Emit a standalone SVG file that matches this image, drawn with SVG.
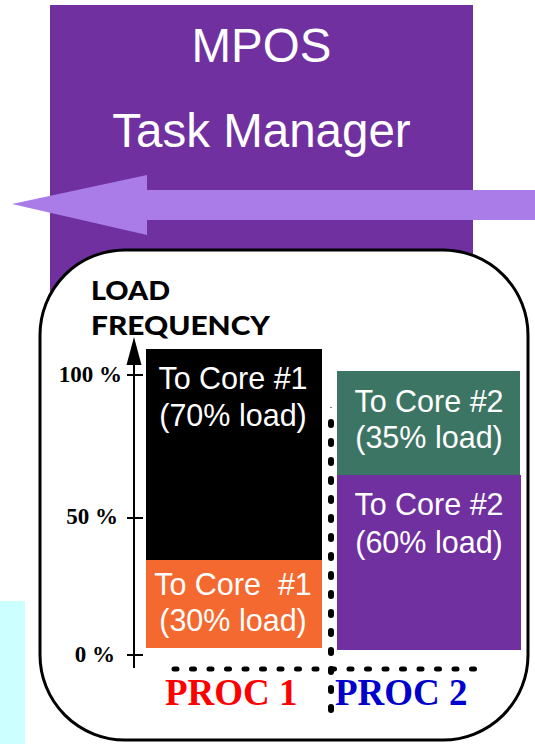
<svg xmlns="http://www.w3.org/2000/svg" width="535" height="744" viewBox="0 0 535 744">
  <style>
    .box-text { font-family: "Liberation Sans", Arial, sans-serif; font-size: 30.5px; fill: #ffffff; text-anchor: middle; white-space: pre; }
    .title { font-family: "Liberation Sans", Arial, sans-serif; font-size: 47.5px; fill: #ffffff; text-anchor: middle; }
    .pct { font-family: "Liberation Serif", "Times New Roman", serif; font-weight: bold; font-size: 23px; fill: #000000; text-anchor: end; }
    .proc { font-family: "Liberation Serif", "Times New Roman", serif; font-weight: bold; font-size: 37px; }
    .axis-title { font-family: Lato, "Liberation Sans", sans-serif; font-weight: 900; font-size: 26px; fill: #000000; }
    .dots-v { stroke: #000000; stroke-width: 6; stroke-linecap: round; stroke-dasharray: 3 16; fill: none; }
    .dots-h { stroke: #000000; stroke-width: 5; stroke-linecap: round; stroke-dasharray: 3 14.5; fill: none; }
    .tick { stroke: #000000; stroke-width: 2; }
  </style>

  <!-- side strip -->
  <rect id="side-strip" x="0" y="601" width="25" height="143" fill="#CCFFFF"/>

  <!-- task manager block -->
  <g id="task-manager">
    <rect x="50" y="5" width="423" height="320" fill="#7030A0"/>
    <text class="title" x="261.5" y="62">MPOS</text>
    <text class="title" x="261.5" y="147">Task Manager</text>
  </g>

  <g id="connectors">
    <!-- dispatch arrow -->
    <polygon points="12,204 147,175 147,190 535,190 535,220 147,220 147,235" fill="#A97CE8"/>
  </g>

  <!-- chart frame -->
  <g id="chart-frame">
    <rect x="40" y="250" width="488" height="490" rx="85" ry="85" fill="#ffffff" stroke="#000000" stroke-width="3"/>
  </g>

  <!-- axis -->
  <g id="axis">
    <text class="axis-title" x="91" y="300" textLength="79" lengthAdjust="spacingAndGlyphs">LOAD</text>
    <text class="axis-title" x="91" y="335" textLength="179" lengthAdjust="spacingAndGlyphs">FREQUENCY</text>
    <line x1="134" y1="360" x2="134" y2="668" stroke="#000000" stroke-width="2"/>
    <polygon points="134,337 141.5,365 126.5,365" fill="#000000"/>
    <line class="tick" x1="127" y1="375" x2="143" y2="375"/>
    <line class="tick" x1="127" y1="518" x2="143" y2="518"/>
    <line class="tick" x1="127" y1="655" x2="143" y2="655"/>
    <text class="pct" x="122" y="382">100 %</text>
    <text class="pct" x="118" y="524">50 %</text>
    <text class="pct" x="115" y="662">0 %</text>
  </g>

  <!-- processor 1 loads -->
  <g id="core1-70">
    <rect x="146" y="349" width="176" height="211" fill="#000000"/>
    <text class="box-text" x="233" y="389">To Core #1</text>
    <text class="box-text" x="233" y="426">(70% load)</text>
  </g>
  <g id="core1-30">
    <rect x="146" y="560" width="176" height="88" fill="#F4692F"/>
    <text class="box-text" x="233" y="595">To Core  #1</text>
    <text class="box-text" x="233" y="631">(30% load)</text>
  </g>

  <!-- processor 2 loads -->
  <g id="core2-35">
    <rect x="337" y="371" width="183" height="104" fill="#3D7564"/>
    <text class="box-text" x="429" y="412">To Core #2</text>
    <text class="box-text" x="429" y="448">(35% load)</text>
  </g>
  <g id="core2-60">
    <rect x="337" y="475" width="184" height="175" fill="#7030A0"/>
    <text class="box-text" x="429" y="515">To Core #2</text>
    <text class="box-text" x="429" y="553">(60% load)</text>
  </g>

  <!-- processor separators -->
  <g id="separators">
    <line x1="331" y1="407" x2="331" y2="408" stroke="#000000" stroke-width="1"/>
    <line class="dots-v" x1="331" y1="422" x2="331" y2="712"/>
    <line class="dots-h" x1="174" y1="669" x2="484" y2="669"/>
  </g>

  <!-- processor labels -->
  <g id="proc-labels">
    <text class="proc" x="165" y="705" fill="#FF0000">PROC 1</text>
    <text class="proc" x="335" y="705" fill="#0000CC">PROC 2</text>
  </g>
</svg>
